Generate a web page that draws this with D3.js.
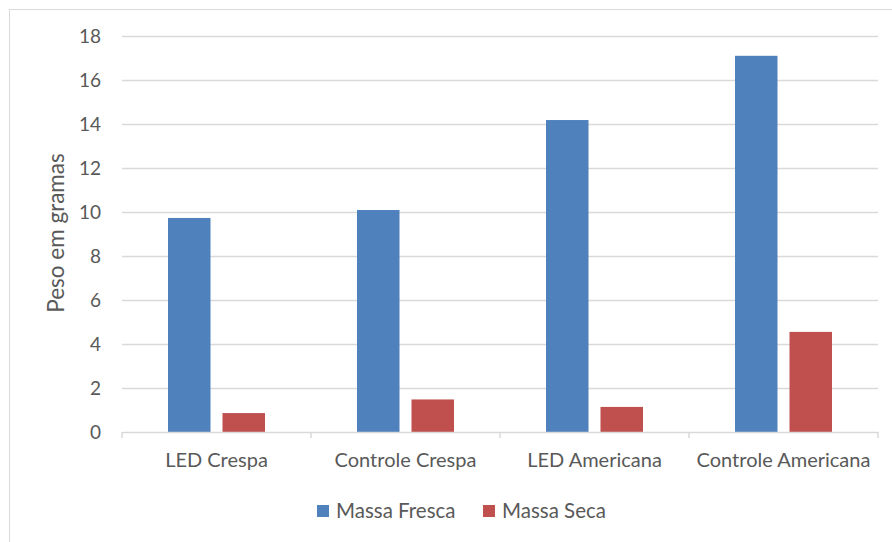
<!DOCTYPE html>
<html>
<head>
<meta charset="utf-8">
<script src="https://cdn.jsdelivr.net/npm/d3@7"></script>
<style>
  body { margin: 0; background: #fff; }
  svg text { font-family: Lato, "Open Sans", sans-serif; fill: #595959; }
</style>
</head>
<body>
<svg id="chart" width="892" height="542"></svg>
<script>
// data
var categories = ['LED Crespa', 'Controle Crespa', 'LED Americana', 'Controle Americana'];
var seriesNames = ['Massa Fresca', 'Massa Seca'];
var massaFresca = [9.73, 10.09, 14.18, 17.1];
var massaSeca = [0.86, 1.48, 1.14, 4.55];
var yTicks = [0, 2, 4, 6, 8, 10, 12, 14, 16, 18];
var colors = ['#4F81BD', '#C0504D'];

var svg = d3.select('#chart');

// outer chart border
svg.append('rect')
  .attr('x', 9.5).attr('y', 9.5)
  .attr('width', 900).attr('height', 600)
  .attr('fill', 'none')
  .attr('stroke', '#D9D9D9');

var plotLeft = 122, plotRight = 878, plotTop = 36, plotBottom = 432;

var x = d3.scaleBand()
  .domain(categories)
  .range([plotLeft, plotRight]);

var xs = d3.scaleBand()
  .domain(seriesNames)
  .range([46, 143])
  .paddingInner(0.22);

var y = d3.scaleLinear()
  .domain([0, 18])
  .range([plotBottom, plotTop]);

// gridlines
svg.append('g')
  .selectAll('line')
  .data(yTicks.filter(function(d) { return d > 0; }))
  .enter()
  .append('line')
  .attr('x1', plotLeft)
  .attr('x2', plotRight)
  .attr('y1', function(d) { return Math.round(y(d)) + 0.5; })
  .attr('y2', function(d) { return Math.round(y(d)) + 0.5; })
  .attr('stroke', '#D9D9D9')
  .attr('stroke-width', 1.3);

// y tick labels
svg.append('g')
  .selectAll('text')
  .data(yTicks)
  .enter()
  .append('text')
  .attr('x', 101)
  .attr('y', function(d) { return y(d); })
  .attr('dy', '0.35em')
  .attr('text-anchor', 'end')
  .style('font-size', '19px')
  .text(function(d) { return d; });

// bars
var rows = categories.map(function(c, i) {
  return { cat: c, values: [massaFresca[i], massaSeca[i]] };
});

var groups = svg.append('g')
  .selectAll('g')
  .data(rows)
  .enter()
  .append('g')
  .attr('transform', function(d) { return 'translate(' + x(d.cat) + ',0)'; });

groups.selectAll('rect')
  .data(function(d) {
    return d.values.map(function(v, j) { return { name: seriesNames[j], value: v, j: j }; });
  })
  .enter()
  .append('rect')
  .attr('x', function(d) { return xs(d.name); })
  .attr('width', xs.bandwidth())
  .attr('y', function(d) { return y(d.value); })
  .attr('height', function(d) { return plotBottom - y(d.value); })
  .attr('fill', function(d) { return colors[d.j]; });

// x axis
var xAxis = d3.axisBottom(x).tickSize(0).tickPadding(21);
var gx = svg.append('g')
  .attr('transform', 'translate(0,' + plotBottom + ')')
  .call(xAxis);
gx.select('.domain').attr('stroke', '#D9D9D9').attr('stroke-width', 1.5);
gx.selectAll('.tick text')
  .style('font-size', '20px')
  .style('font-family', 'Lato, sans-serif')
  .attr('fill', '#595959');

// category boundary ticks
svg.append('g')
  .selectAll('line')
  .data(categories.concat(['end']))
  .enter()
  .append('line')
  .attr('x1', function(d, i) { return plotLeft + i * x.bandwidth(); })
  .attr('x2', function(d, i) { return plotLeft + i * x.bandwidth(); })
  .attr('y1', plotBottom)
  .attr('y2', plotBottom + 6)
  .attr('stroke', '#D9D9D9')
  .attr('stroke-width', 1.5);

// y axis title
svg.append('text')
  .attr('transform', 'translate(64,233) rotate(-90)')
  .attr('text-anchor', 'middle')
  .style('font-size', '22.5px')
  .text('Peso em gramas');

// legend
var legendX = [317, 483];
var legend = svg.append('g')
  .selectAll('g')
  .data(seriesNames)
  .enter()
  .append('g')
  .attr('transform', function(d, i) { return 'translate(' + legendX[i] + ',505)'; });

legend.append('rect')
  .attr('width', 12)
  .attr('height', 12)
  .attr('fill', function(d, i) { return colors[i]; });

legend.append('text')
  .attr('x', 19)
  .attr('y', 6)
  .attr('dy', '0.35em')
  .style('font-size', '20.5px')
  .text(function(d) { return d; });
</script>
</body>
</html>
